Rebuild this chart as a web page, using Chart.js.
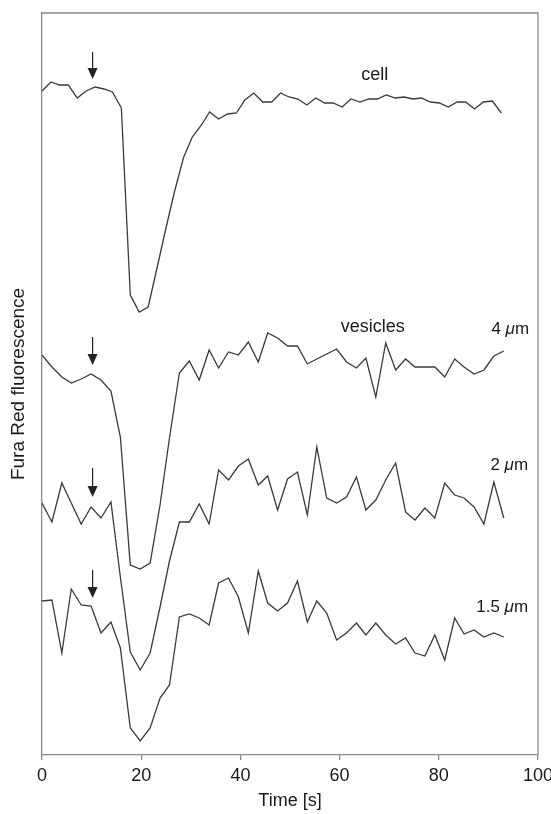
<!DOCTYPE html>
<html>
<head>
<meta charset="utf-8">
<script src="https://cdn.jsdelivr.net/npm/chart.js@4.4.1/dist/chart.umd.min.js"></script>
<style>
  body { margin: 0; background: #fff; }
  canvas { display: block; }
</style>
</head>
<body>
<canvas id="myChart" width="551" height="814"></canvas>
<script>
  // sampling times [s]
  var cellTime = [0, 1.8, 3.6, 5.3, 7.1, 8.9, 10.7, 12.5, 14.2, 16.0,
    17.8, 19.6, 21.4, 23.1, 24.9, 26.7, 28.5, 30.3, 32.0, 33.8,
    35.6, 37.4, 39.2, 40.9, 42.7, 44.5, 46.3, 48.1, 49.8, 51.6,
    53.4, 55.2, 57.0, 58.7, 60.5, 62.3, 64.1, 65.9, 67.6, 69.4,
    71.2, 73.0, 74.8, 76.5, 78.3, 80.1, 81.9, 83.7, 85.4, 87.2,
    89.0, 90.8, 92.6];
  var vesTime = [0, 2.0, 4.0, 5.9, 7.9, 9.9, 11.9, 13.9, 15.8, 17.8,
    19.8, 21.8, 23.8, 25.7, 27.7, 29.7, 31.7, 33.7, 35.6, 37.6,
    39.6, 41.6, 43.6, 45.5, 47.5, 49.5, 51.5, 53.5, 55.4, 57.4,
    59.4, 61.4, 63.4, 65.3, 67.3, 69.3, 71.3, 73.3, 75.2, 77.2,
    79.2, 81.2, 83.2, 85.1, 87.1, 89.1, 91.1, 93.1];

  // fluorescence traces (arbitrary units, stacked)
  var cellValues = [664, 673, 670, 670, 657, 664, 668, 666, 663, 647,
    460, 443, 448, 485, 525, 563, 597, 618, 629, 643,
    636, 641, 642, 655, 662, 653, 653, 662, 658, 656,
    650, 657, 652, 652, 648, 656, 653, 656, 656, 660,
    657, 658, 656, 657, 653, 652, 648, 653, 653, 646,
    653, 654, 642];
  var ves4Values = [400, 388, 378, 372, 376, 381, 375, 364, 318, 190,
    186, 192, 250, 317, 382, 394, 375, 405, 387, 403,
    400, 413, 393, 422, 417, 409, 409, 391, 396, 401,
    406, 393, 387, 397, 358, 412, 385, 396, 388, 388,
    388, 378, 396, 388, 381, 385, 399, 404];
  var ves2Values = [252, 233, 272, 252, 231, 248, 237, 253, 178, 103,
    85, 102, 148, 194, 233, 233, 251, 231, 285, 275,
    289, 296, 270, 279, 245, 276, 283, 240, 308, 257,
    252, 258, 278, 245, 255, 275, 292, 243, 235, 247,
    237, 272, 260, 257, 248, 231, 273, 237];
  var ves15Values = [154, 155, 102, 166, 150, 149, 122, 133, 107, 27,
    14, 27, 57, 70, 138, 141, 137, 130, 172, 177,
    158, 122, 184, 152, 144, 152, 174, 133, 154, 142,
    115, 122, 132, 120, 132, 120, 111, 117, 102, 99,
    120, 95, 137, 121, 125, 118, 122, 118];

  var xTicks = [0, 20, 40, 60, 80, 100];

  // stimulus arrows: time, top and tip value
  var arrowTime = 10.2;
  var arrowTops = [703, 418, 287, 185];
  var arrowTips = [676, 390, 258, 157];

  // trace labels
  var notes = [
    {text: "cell", x: 67.1, y: 680, align: "center"},
    {text: "vesicles", x: 66.7, y: 428, align: "center"},
    {num: "4 ", x: 98.2, y: 426, align: "right"},
    {num: "2 ", x: 98.0, y: 290, align: "right"},
    {num: "1.5 ", x: 98.0, y: 148, align: "right"}
  ];

  function pairs(xs, ys) {
    return ys.map(function (v, i) { return {x: xs[i], y: v}; });
  }

  var lineColor = "#3a3a3a";
  function trace(xs, ys) {
    return {
      data: pairs(xs, ys),
      borderColor: lineColor,
      borderWidth: 1.3,
      pointRadius: 0,
      tension: 0,
      fill: false
    };
  }

  var frame = {
    id: "frame",
    afterDraw: function (chart) {
      var c = chart.ctx, a = chart.chartArea;
      var xs = chart.scales.x, ys = chart.scales.y;
      c.save();
      c.strokeStyle = "#8a8a8a";
      c.lineWidth = 1.3;
      c.beginPath();
      c.moveTo(a.left, a.top);
      c.lineTo(a.right, a.top);
      c.lineTo(a.right, a.bottom);
      c.stroke();

      // arrows
      c.strokeStyle = "#222";
      c.fillStyle = "#222";
      c.lineWidth = 1.2;
      var ax = xs.getPixelForValue(arrowTime);
      for (var i = 0; i < arrowTops.length; i++) {
        var t = ys.getPixelForValue(arrowTops[i]);
        var p = ys.getPixelForValue(arrowTips[i]);
        c.beginPath();
        c.moveTo(ax, t);
        c.lineTo(ax, p - 10);
        c.stroke();
        c.beginPath();
        c.moveTo(ax - 5, p - 11);
        c.lineTo(ax + 5, p - 11);
        c.lineTo(ax, p);
        c.closePath();
        c.fill();
      }

      // labels
      c.fillStyle = "#1a1a1a";
      c.textBaseline = "middle";
      notes.forEach(function (n) {
        var px = xs.getPixelForValue(n.x), py = ys.getPixelForValue(n.y);
        if (n.text) {
          c.font = "18px 'Liberation Sans', Arial, sans-serif";
          c.textAlign = n.align;
          c.fillText(n.text, px, py);
        } else {
          var f1 = "17px 'Liberation Sans', Arial, sans-serif";
          var f2 = "italic 17px 'Liberation Sans', Arial, sans-serif";
          c.font = f1;
          var wm = c.measureText("m").width;
          var wn = c.measureText(n.num).width;
          c.font = f2;
          var wu = c.measureText("\u03bc").width;
          var x0 = px - wm - wu - wn;
          c.textAlign = "left";
          c.font = f1;
          c.fillText(n.num, x0, py);
          c.font = f2;
          c.fillText("\u03bc", x0 + wn, py);
          c.font = f1;
          c.fillText("m", x0 + wn + wu, py);
        }
      });
      c.restore();
    }
  };

  var ctx = document.getElementById("myChart").getContext("2d");

  new Chart(ctx, {
    type: "line",
    data: {
      datasets: [
        trace(cellTime, cellValues),
        trace(vesTime, ves4Values),
        trace(vesTime, ves2Values),
        trace(vesTime, ves15Values)
      ]
    },
    options: {
      responsive: false,
      animation: false,
      layout: {padding: {top: 13, right: 13, left: 0, bottom: 0}},
      plugins: {legend: {display: false}, tooltip: {enabled: false}},
      scales: {
        x: {
          type: "linear",
          min: 0,
          max: 100,
          afterBuildTicks: function (scale) {
            scale.ticks = xTicks.map(function (v) { return {value: v}; });
          },
          afterFit: function (scale) {
            scale.height = 59;
            scale.paddingLeft = 0;
            scale.paddingRight = 0;
          },
          grid: {display: true, drawOnChartArea: false, drawTicks: true, tickLength: 5, color: "#8a8a8a", lineWidth: 1.3},
          border: {display: true, color: "#8a8a8a", width: 1.3},
          ticks: {
            color: "#1a1a1a",
            padding: 5,
            maxRotation: 0,
            font: {family: "'Liberation Sans', Arial, sans-serif", size: 18}
          },
          title: {
            display: true,
            text: "Time [s]",
            color: "#1a1a1a",
            padding: {top: 0, bottom: 2},
            font: {family: "'Liberation Sans', Arial, sans-serif", size: 18}
          }
        },
        y: {
          min: 0,
          max: 742,
          afterFit: function (scale) {
            scale.width = 42;
            scale.paddingTop = 0;
            scale.paddingBottom = 0;
          },
          grid: {display: false},
          border: {display: true, color: "#8a8a8a", width: 1.3},
          ticks: {display: false},
          title: {
            display: true,
            text: "Fura Red fluorescence",
            color: "#1a1a1a",
            padding: {top: 7, bottom: 0},
            font: {family: "'Liberation Sans', Arial, sans-serif", size: 19}
          }
        }
      }
    },
    plugins: [frame]
  });
</script>
</body>
</html>
